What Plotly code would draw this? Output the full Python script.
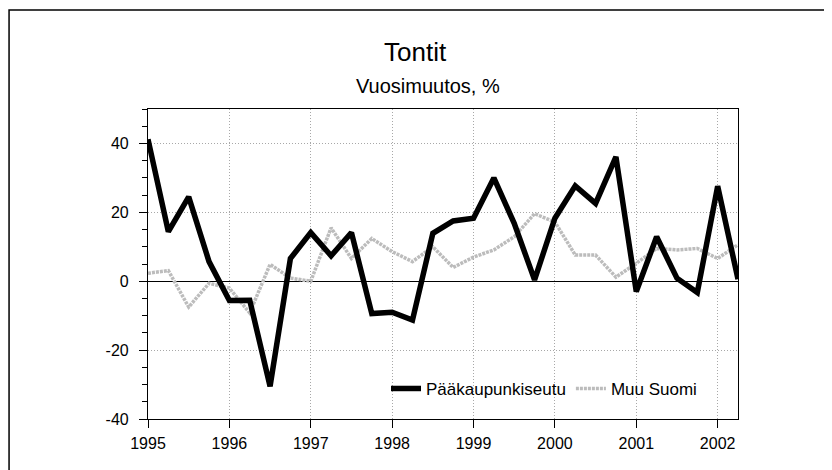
import plotly.graph_objects as go

# Quarterly observations, 1995 Q1 .. 2002 Q2 (decimal years)
quarters = [1995.0, 1995.25, 1995.5, 1995.75,
            1996.0, 1996.25, 1996.5, 1996.75,
            1997.0, 1997.25, 1997.5, 1997.75,
            1998.0, 1998.25, 1998.5, 1998.75,
            1999.0, 1999.25, 1999.5, 1999.75,
            2000.0, 2000.25, 2000.5, 2000.75,
            2001.0, 2001.25, 2001.5, 2001.75,
            2002.0, 2002.25]

paakaupunkiseutu = [41.2, 14.4, 24.5, 5.7,
                    -5.6, -5.5, -30.5, 6.6,
                    14.1, 7.4, 14.1, -9.4,
                    -9.0, -11.3, 13.9, 17.5,
                    18.3, 30.0, 16.8, 0.4,
                    18.3, 27.7, 22.6, 36.1,
                    -3.0, 12.9, 0.9, -3.3,
                    27.6, 0.6]

muu_suomi = [2.3, 3.1, -7.5, -0.6,
             -2.0, -9.2, 4.9, 0.9,
             0.0, 15.5, 6.6, 12.4,
             8.6, 5.7, 10.0, 4.0,
             7.0, 9.1, 12.9, 19.6,
             17.2, 7.6, 7.6, 1.2,
             5.2, 9.5, 9.1, 9.5,
             6.6, 10.6]

year_ticks = [1995, 1996, 1997, 1998, 1999, 2000, 2001, 2002]
y_ticks = [-40, -20, 0, 20, 40]
y_tick_labels = ["-40", "-20", "0", "20", "40"]

title_text = "Tontit"
subtitle_text = "Vuosimuutos, %"

FONT = "Liberation Sans, Arial, sans-serif"

fig = go.Figure()

fig.add_trace(go.Scatter(
    x=quarters, y=muu_suomi, mode="lines", name="Muu Suomi",
    line=dict(color="#bcbcbc", width=3.5, dash="3px,1px"),
    legendrank=2,
))
fig.add_trace(go.Scatter(
    x=quarters, y=paakaupunkiseutu, mode="lines", name="Pääkaupunkiseutu",
    line=dict(color="#000000", width=5.5),
    legendrank=1,
))

fig.update_layout(
    width=824, height=462,
    margin=dict(l=140, r=94, t=101, b=51),
    paper_bgcolor="white", plot_bgcolor="white",
    font=dict(family=FONT, size=16, color="black"),
    showlegend=True,
    legend=dict(
        orientation="h", x=0.4034, y=0.097, xanchor="left", yanchor="middle",
        bgcolor="rgba(0,0,0,0)", borderwidth=0,
        font=dict(family=FONT, size=17, color="black"),
        itemwidth=30, tracegroupgap=0,
    ),
    xaxis=dict(
        range=[1995, 2002.25],
        tickmode="array", tickvals=year_ticks,
        ticktext=[str(v) for v in year_ticks],
        ticks="outside", ticklen=8, tickcolor="black", tickwidth=1,
        showline=True, linecolor="black", linewidth=1.2, mirror=True,
        showgrid=True, gridcolor="#a8a8a8", gridwidth=1, griddash="1px,2px",
        zeroline=False,
        tickfont=dict(family=FONT, size=16),
        ticklabelstandoff=2,
    ),
    yaxis=dict(
        range=[-40, 50],
        tickmode="array", tickvals=y_ticks, ticktext=y_tick_labels,
        ticks="outside", ticklen=8, tickcolor="black", tickwidth=1,
        minor=dict(dtick=5, ticks="outside", ticklen=5, tickcolor="black", showgrid=False),
        showline=True, linecolor="black", linewidth=1.2, mirror=True,
        showgrid=True, gridcolor="#a8a8a8", gridwidth=1, griddash="1px,2px",
        zeroline=True, zerolinecolor="black", zerolinewidth=1.2,
        tickfont=dict(family=FONT, size=16),
        ticklabelstandoff=7,
    ),
    annotations=[
        dict(text=title_text, xref="paper", yref="paper", x=0.454, y=1.184,
             xanchor="center", yanchor="middle", showarrow=False,
             font=dict(family=FONT, size=26, color="black")),
        dict(text=subtitle_text, xref="paper", yref="paper", x=0.4746, y=1.074,
             xanchor="center", yanchor="middle", showarrow=False,
             font=dict(family=FONT, size=20, color="black")),
    ],
    shapes=[
        dict(type="rect", xref="paper", yref="paper",
             x0=-0.2355, x1=1.149, y0=-0.3, y1=1.319,
             line=dict(color="black", width=1.5), layer="below"),
    ],
)

fig.write_html("out.html")
